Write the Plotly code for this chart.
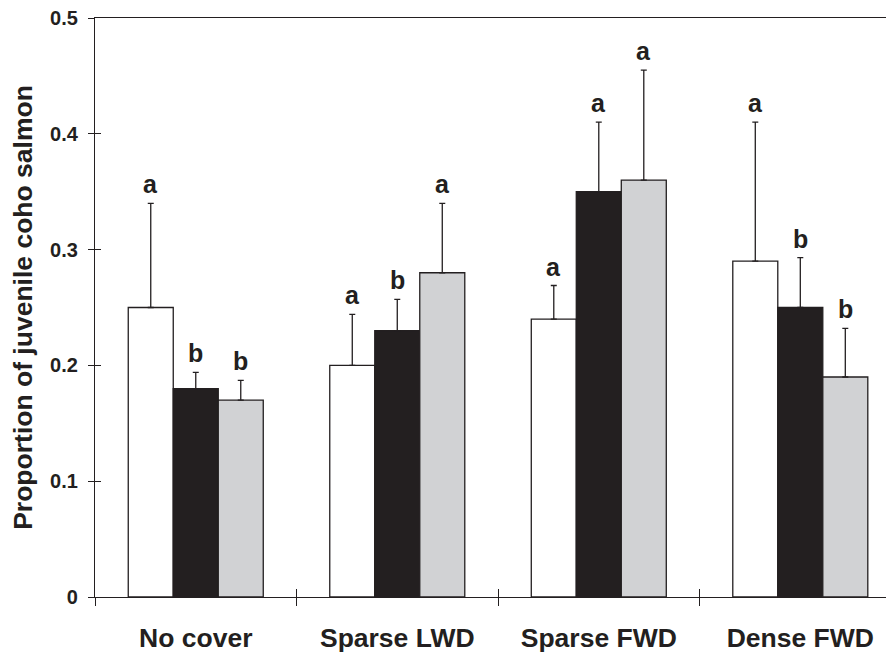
import plotly.graph_objects as go

categories = ["No cover", "Sparse LWD", "Sparse FWD", "Dense FWD"]
series_names = ["Treatment 1", "Treatment 2", "Treatment 3"]
means_white = [0.25, 0.20, 0.24, 0.29]
means_black = [0.18, 0.23, 0.35, 0.25]
means_gray = [0.17, 0.28, 0.36, 0.19]
err_white = [0.09, 0.044, 0.029, 0.12]
err_black = [0.014, 0.027, 0.060, 0.043]
err_gray = [0.017, 0.060, 0.095, 0.042]
letters_white = ["a", "a", "a", "a"]
letters_black = ["b", "b", "a", "b"]
letters_gray = ["b", "a", "a", "b"]
y_ticks = [0, 0.1, 0.2, 0.3, 0.4, 0.5]
y_tick_text = ["0", "0.1", "0.2", "0.3", "0.4", "0.5"]

INK = "#231f20"
fills = ["#ffffff", "#231f20", "#d1d2d4"]
means = [means_white, means_black, means_gray]
errs = [err_white, err_black, err_gray]
letters = [letters_white, letters_black, letters_gray]

FONT = "Liberation Sans, Arial, sans-serif"

fig = go.Figure()
for name, m, e, c in zip(series_names, means, errs, fills):
    fig.add_trace(go.Bar(
        x=categories, y=m, name=name,
        marker=dict(color=c, line=dict(color=INK, width=1.3)),
        error_y=dict(type="data", array=e, symmetric=False, arrayminus=[0]*len(e),
                     color=INK, thickness=1.3, width=3),
        showlegend=False, hoverinfo="skip",
    ))

# invisible trace to carry the overlay axes (inside halves of crossing ticks)
fig.add_trace(go.Scatter(x=categories, y=[None]*len(categories), xaxis="x2", yaxis="y2",
                         mode="markers", showlegend=False, hoverinfo="skip"))

# significance letters above error bars
n_series = len(series_names)
bar_px = 45
for i, (m, e, lt) in enumerate(zip(means, errs, letters)):
    shift = (i - (n_series - 1) / 2) * bar_px
    for cat, mv, ev, t in zip(categories, m, e, lt):
        fig.add_annotation(x=cat, y=mv + ev, text=t, showarrow=False,
                           xref="x", yref="y", xshift=shift, yshift=3,
                           yanchor="bottom",
                           font=dict(family=FONT, size=25, color=INK, weight="bold"))

xrange = [-0.5, 3.465]
fig.update_layout(
    width=886, height=644,
    margin=dict(l=87, r=0, t=10, b=55),
    paper_bgcolor="white", plot_bgcolor="white",
    barmode="group", bargap=0.33, bargroupgap=0,
    font=dict(family=FONT, color=INK),
    xaxis=dict(type="category", categoryorder="array", categoryarray=categories,
               range=xrange, showline=True, linecolor=INK, linewidth=1.3, mirror=True,
               ticks="outside", ticklen=8, tickwidth=1.3, tickcolor=INK,
               tickson="boundaries", showgrid=False, zeroline=False, automargin=False,
               tickfont=dict(family=FONT, size=26.5, color=INK, weight="bold"),
               ticklabelstandoff=17, ticklabeloverflow="allow"),
    yaxis=dict(range=[0, 0.5], tickvals=y_ticks, ticktext=y_tick_text,
               showline=True, linecolor=INK, linewidth=1.3, mirror=False,
               ticks="outside", ticklen=6, tickwidth=1.3, tickcolor=INK,
               showgrid=False, zeroline=False, automargin=False,
               tickfont=dict(family=FONT, size=20, color=INK, weight="bold"),
               ticklabelstandoff=6, ticklabeloverflow="allow",
               title=dict(text="Proportion of juvenile coho salmon", standoff=12,
                          font=dict(family=FONT, size=26.5, color=INK, weight="bold"))),
    xaxis2=dict(type="category", categoryorder="array", categoryarray=categories,
                overlaying="x", anchor="y2", range=xrange, side="bottom",
                ticks="inside", ticklen=8, tickwidth=1.3, tickcolor=INK,
                tickson="boundaries", showticklabels=False, showline=False,
                showgrid=False, zeroline=False, automargin=False),
    yaxis2=dict(overlaying="y", anchor="x2", range=[0, 0.5], tickvals=y_ticks,
                ticks="inside", ticklen=6, tickwidth=1.3, tickcolor=INK, side="left",
                showticklabels=False, showline=False, showgrid=False, zeroline=False,
                automargin=False),
)

fig.write_html("out.html")
